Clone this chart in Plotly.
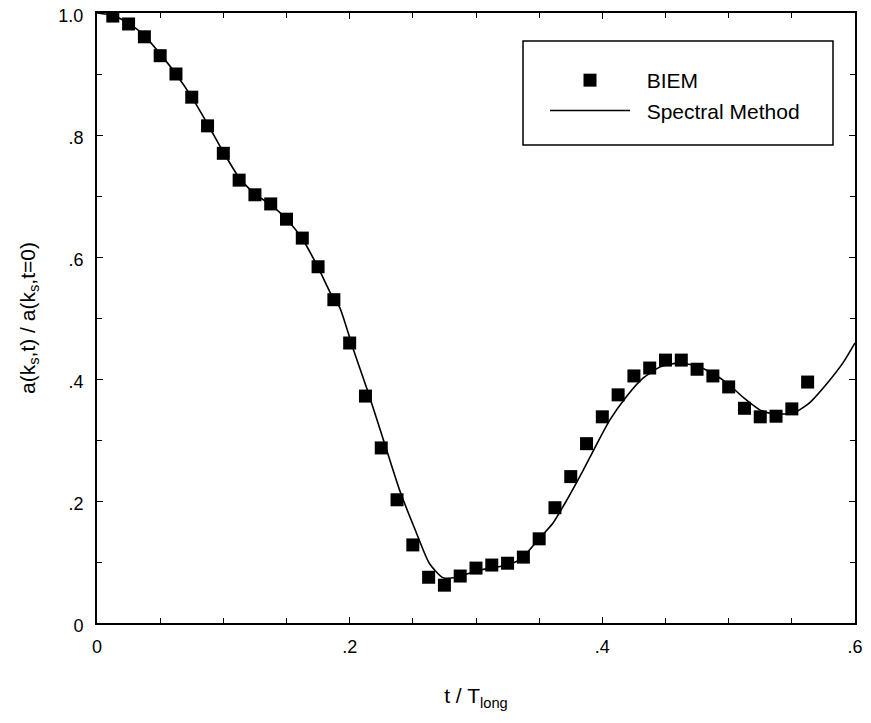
import plotly.graph_objects as go

# BIEM data (squares)
biem_t = [0.0125 * i for i in range(1, 46)]
biem_v = [0.995, 0.982, 0.961, 0.930, 0.900, 0.862, 0.815, 0.770, 0.726, 0.702,
          0.687, 0.662, 0.631, 0.584, 0.530, 0.459, 0.372, 0.287, 0.202, 0.128,
          0.075, 0.062, 0.077, 0.090, 0.095, 0.098, 0.108, 0.138, 0.189, 0.240,
          0.294, 0.338, 0.374, 0.405, 0.418, 0.431, 0.431, 0.416, 0.405, 0.387,
          0.352, 0.338, 0.339, 0.351, 0.395]

# Spectral method (line)
spec_t = [0.0, 0.0125, 0.025, 0.0375, 0.05, 0.0625, 0.075, 0.0875, 0.1, 0.1125,
          0.125, 0.1375, 0.15, 0.1625, 0.175, 0.1875, 0.192, 0.203, 0.214, 0.226,
          0.240, 0.252, 0.263, 0.274, 0.285, 0.298, 0.311, 0.325, 0.336, 0.349,
          0.361, 0.372, 0.385, 0.396, 0.406, 0.419, 0.432, 0.446, 0.459, 0.472,
          0.485, 0.499, 0.512, 0.525, 0.535, 0.551, 0.564, 0.578, 0.591, 0.600]
spec_v = [1.0, 0.996, 0.983, 0.963, 0.933, 0.900, 0.862, 0.818, 0.772, 0.730,
          0.703, 0.686, 0.662, 0.630, 0.583, 0.530, 0.518, 0.448, 0.382, 0.305,
          0.215, 0.152, 0.098, 0.074, 0.075, 0.084, 0.090, 0.095, 0.106, 0.136,
          0.164, 0.202, 0.251, 0.295, 0.333, 0.371, 0.401, 0.420, 0.426, 0.423,
          0.412, 0.393, 0.369, 0.349, 0.343, 0.344, 0.361, 0.393, 0.428, 0.459]

x_tickvals = [0, 0.2, 0.4, 0.6]
x_ticktext = ["0", ".2", ".4", ".6"]
y_tickvals = [0, 0.2, 0.4, 0.6, 0.8, 1.0]
y_ticktext = ["0", ".2", ".4", ".6", ".8", "1.0"]

FONT = "Liberation Sans, Arial, sans-serif"

# page body has an 8px margin; plot area target in window: x 97..855, y 13..623
OFF = 8
W, H = 871, 723
L, R, T, B = 97 - OFF, W - (855 - OFF), 13 - OFF, H - (623 - OFF)
PW, PH = 855 - 97, 623 - 13


def px(xw):
    return (xw - 97) / PW


def py(yw):
    return (623 - yw) / PH


fig = go.Figure()
fig.add_trace(go.Scatter(x=biem_t, y=biem_v, mode="markers", name="\u00a0\u00a0BIEM",
                         marker=dict(symbol="square", size=13, color="black"),
                         legendgroup="a"))
fig.add_trace(go.Scatter(x=spec_t, y=spec_v, mode="lines", name="\u00a0\u00a0Spectral Method",
                         line=dict(color="black", width=1.6, shape="spline", smoothing=0.6),
                         legendgroup="b"))

axis_common = dict(showgrid=False, zeroline=False, showline=True, linecolor="black",
                   linewidth=2, mirror="allticks", ticks="inside", ticklen=6,
                   tickcolor="black", tickwidth=1.2, automargin=False,
                   ticklabeloverflow="allow",
                   tickfont=dict(family=FONT, size=18, color="black"))

fig.update_xaxes(range=[0, 0.6], tickvals=x_tickvals, ticktext=x_ticktext,
                 minor=dict(dtick=0.05, ticks="inside", ticklen=5, tickcolor="black", tickwidth=1),
                 ticklabelstandoff=6,
                 title=dict(text="t / T<sub>long</sub>", font=dict(family=FONT, size=21, color="black"),
                            standoff=33),
                 **axis_common)
fig.update_yaxes(range=[0, 1.0], tickvals=y_tickvals, ticktext=y_ticktext,
                 minor=dict(dtick=0.1, ticks="inside", ticklen=5, tickcolor="black", tickwidth=1),
                 ticklabelstandoff=8, ticklabelshift=3,
                 title=dict(text="a(k<sub>s</sub>,t) / a(k<sub>s</sub>,t=0)",
                            font=dict(family=FONT, size=21, color="black"), standoff=17),
                 **axis_common)

fig.add_shape(type="rect", xref="paper", yref="paper",
              x0=px(523), x1=px(833), y0=py(145), y1=py(41),
              line=dict(color="black", width=1.5), fillcolor="white", layer="below")

fig.update_layout(
    width=W, height=H,
    margin=dict(l=L, r=R, t=T, b=B, autoexpand=False),
    plot_bgcolor="white", paper_bgcolor="white",
    showlegend=True,
    legend=dict(x=px(545), y=py(60), xanchor="left", yanchor="top",
                bgcolor="rgba(0,0,0,0)", borderwidth=0,
                font=dict(family=FONT, size=21, color="black"),
                itemwidth=80, tracegroupgap=0, traceorder="grouped"),
)

fig.write_html("out.html")
